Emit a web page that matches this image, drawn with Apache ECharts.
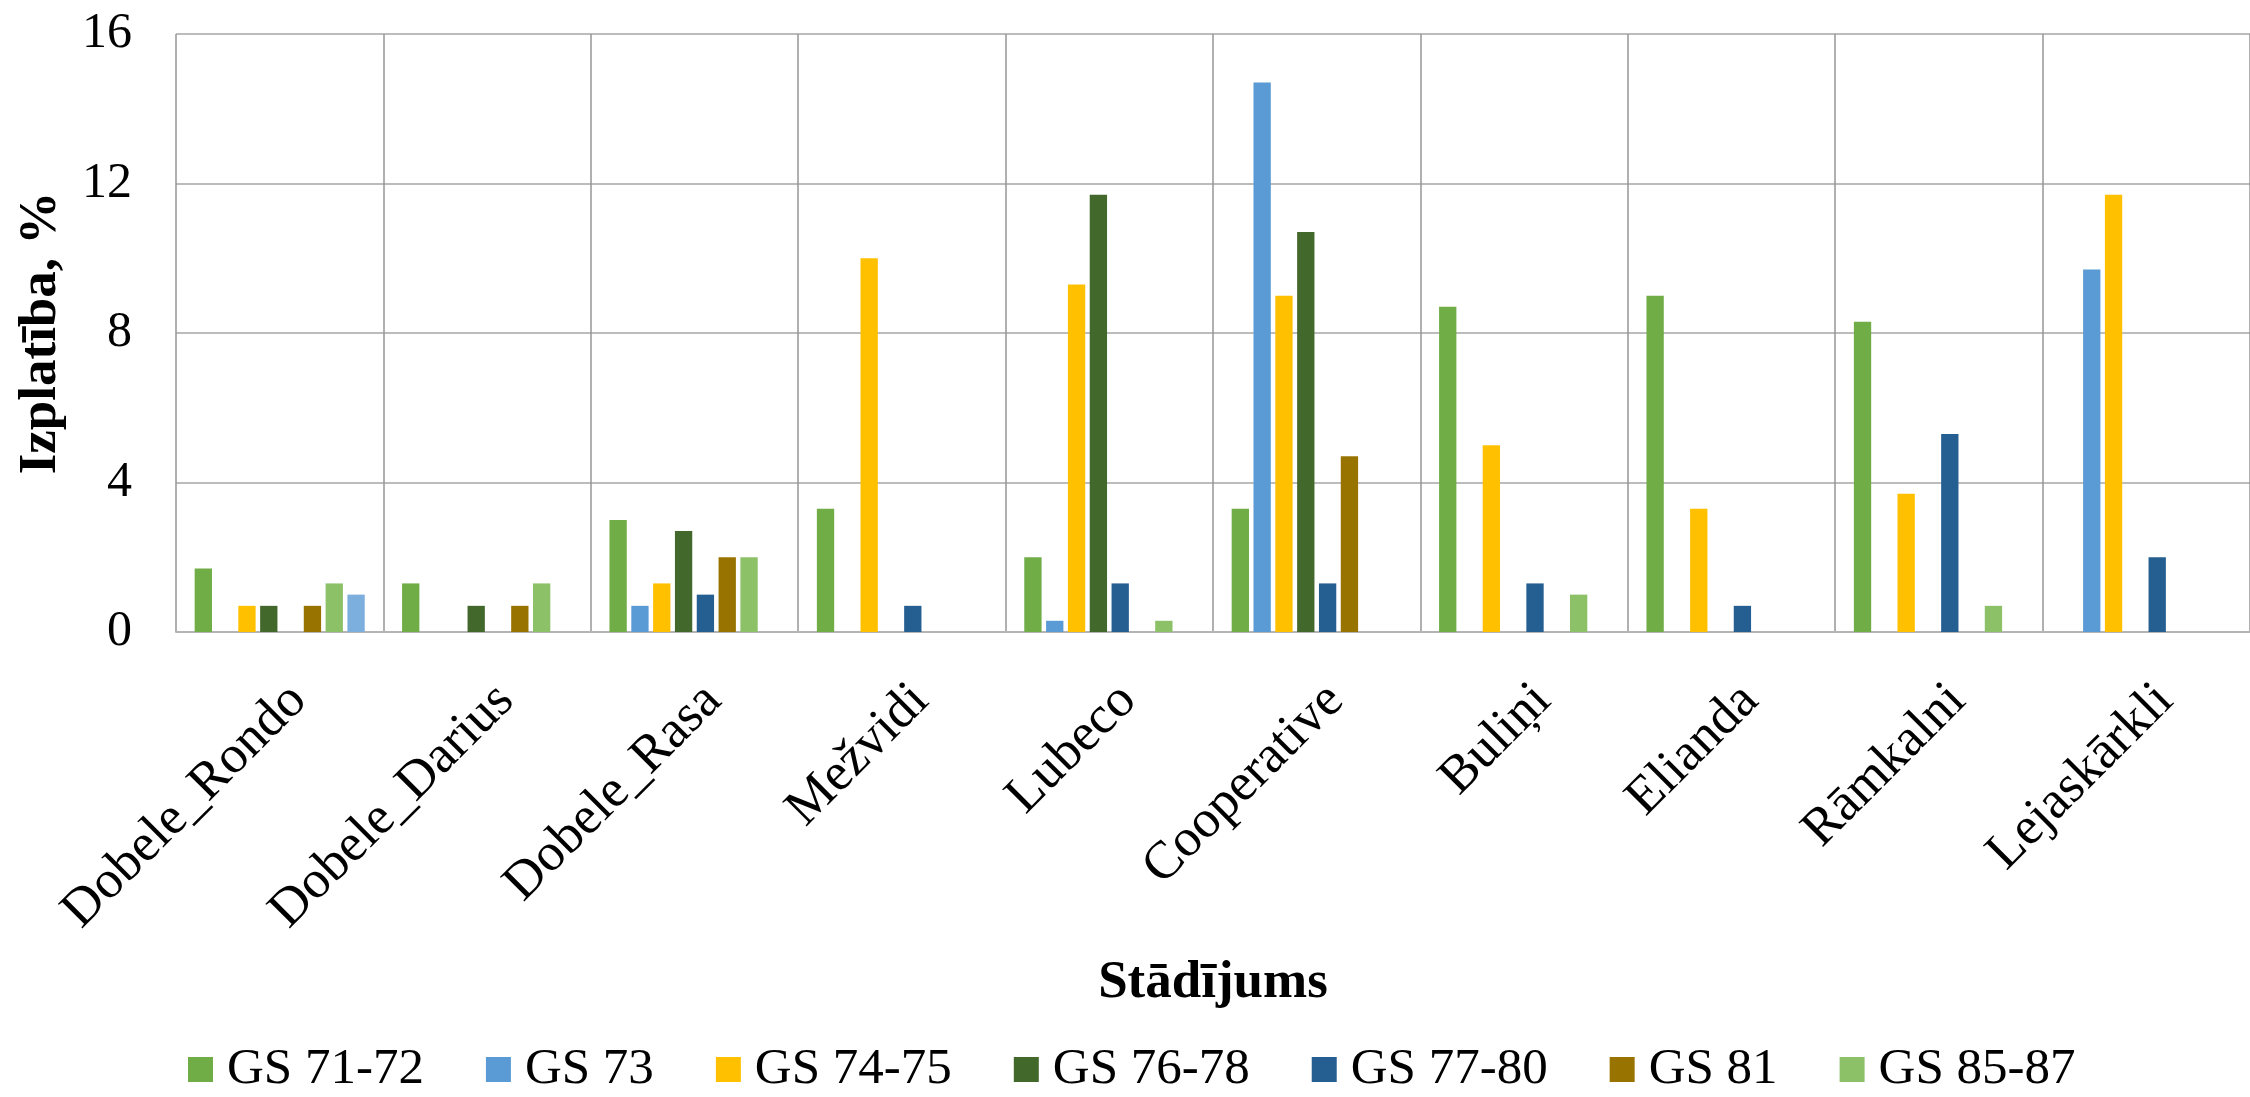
<!DOCTYPE html>
<html>
<head>
<meta charset="utf-8">
<title>Izplatība pa stādījumiem</title>
<script src="https://cdn.jsdelivr.net/npm/echarts@6/dist/echarts.min.js"></script>
<style>
  html, body { margin: 0; padding: 0; background: #ffffff; }
  #chart { width: 2250px; height: 1097px; }
</style>
</head>
<body>
<div id="chart"></div>
<script>
// Plantings (x axis)
const categories = ['Dobele_Rondo', 'Dobele_Darius', 'Dobele_Rasa', 'Mežvidi', 'Lubeco',
  'Cooperative', 'Buliņi', 'Elianda', 'Rāmkalni', 'Lejaskārkli'];

// Spread (%) per growth-stage group; null = not observed
const gs7172 = [1.7, 1.3, 3.0, 3.3, 2.0, 3.3, 8.7, 9.0, 8.3, null];
const gs73   = [null, null, 0.7, null, 0.3, 14.7, null, null, null, 9.7];
const gs7475 = [0.7, null, 1.3, 10.0, 9.3, 9.0, 5.0, 3.3, 3.7, 11.7];
const gs7678 = [0.7, 0.7, 2.7, null, 11.7, 10.7, null, null, null, null];
const gs7780 = [null, null, 1.0, 0.7, 1.3, 1.3, 1.3, 0.7, 5.3, 2.0];
const gs81   = [0.7, 0.7, 2.0, null, null, 4.7, null, null, null, null];
const gs8587 = [1.3, 1.3, 2.0, null, 0.3, null, 1.0, null, 0.7, null];
// extra series without a legend entry
const gsOther = [1.0, null, null, null, null, null, null, null, null, null];

const yTicks = [0, 4, 8, 12, 16];

const seriesDefs = [
  { name: 'GS 71-72', data: gs7172, color: '#70AD47' },
  { name: 'GS 73',    data: gs73,   color: '#5B9BD5' },
  { name: 'GS 74-75', data: gs7475, color: '#FFC000' },
  { name: 'GS 76-78', data: gs7678, color: '#43682B' },
  { name: 'GS 77-80', data: gs7780, color: '#255E91' },
  { name: 'GS 81',    data: gs81,   color: '#997300' },
  { name: 'GS 85-87', data: gs8587, color: '#8CC168' },
  { name: 'cits',     data: gsOther, color: '#7CAFDD' }
];

const FONT = '"Liberation Serif", "Times New Roman", serif';
const chart = echarts.init(document.getElementById('chart'), null, { renderer: 'canvas' });

chart.setOption({
  backgroundColor: '#ffffff',
  animation: false,
  textStyle: { fontFamily: FONT, color: '#000' },
  grid: { left: 176, top: 34, width: 2085, height: 598, containLabel: false },
  legend: {
    data: seriesDefs.slice(0, 7).map(s => s.name),
    left: 188,
    top: 1044,
    padding: 0,
    icon: 'rect',
    itemWidth: 25,
    itemHeight: 25,
    itemGap: 62,
    textStyle: { fontFamily: FONT, fontSize: 51, color: '#000', padding: [0, 0, 0, 9] }
  },
  xAxis: {
    type: 'category',
    data: categories,
    boundaryGap: true,
    name: 'Stādījums',
    nameLocation: 'middle',
    nameGap: 325,
    nameTextStyle: { fontFamily: FONT, fontSize: 53, fontWeight: 'bold', color: '#000' },
    axisLine: { show: true, lineStyle: { color: '#b4b4b4', width: 2 } },
    axisTick: { show: false },
    axisLabel: {
      interval: 0,
      rotate: 45,
      margin: 42,
      verticalAlign: 'top',
      fontFamily: FONT,
      fontSize: 53,
      color: '#000'
    },
    splitLine: { show: true, interval: 0, lineStyle: { color: '#969696', width: 1.5 } }
  },
  yAxis: {
    type: 'value',
    min: 0,
    max: yTicks[yTicks.length - 1],
    interval: yTicks[1] - yTicks[0],
    name: 'Izplatība, %',
    nameLocation: 'middle',
    nameGap: 108,
    nameTextStyle: { fontFamily: FONT, fontSize: 53, fontWeight: 'bold', color: '#000' },
    axisLine: { show: false },
    axisTick: { show: false },
    axisLabel: { margin: 44, fontFamily: FONT, fontSize: 50, color: '#000' },
    splitLine: { show: true, lineStyle: { color: '#a6a6a6', width: 1.5 } }
  },
  series: seriesDefs.map(s => ({
    name: s.name,
    type: 'bar',
    data: s.data,
    barGap: '26%',
    barCategoryGap: '18%',
    itemStyle: { color: s.color },
    emphasis: { disabled: true }
  }))
});
</script>
</body>
</html>
